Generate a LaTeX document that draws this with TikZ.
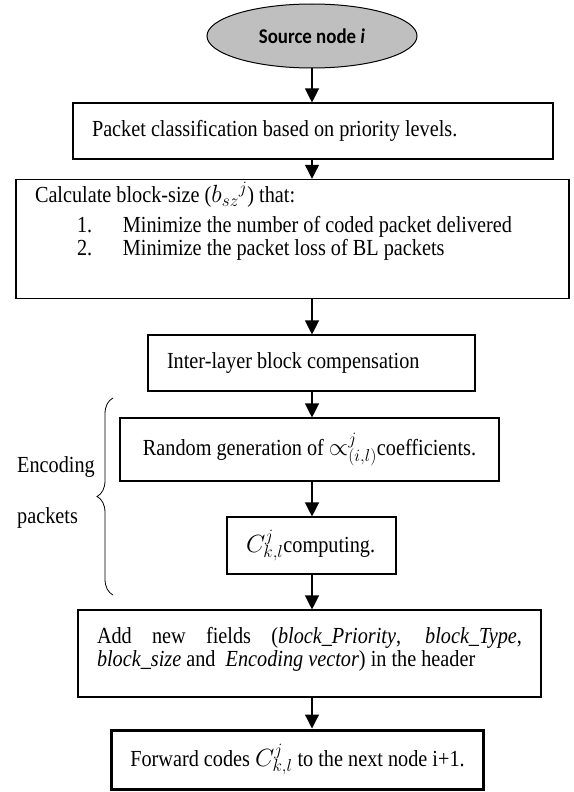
\documentclass[tikz,border=0pt]{standalone}
\usepackage{fontspec}
\setmainfont{Liberation Serif}[FakeStretch=0.88]
\newfontfamily\carlito{Carlito}[FakeStretch=0.9]
\usetikzlibrary{arrows.meta,shapes.geometric,decorations.pathreplacing}

\tikzset{
  stage/.style={draw, line width=1.1pt, inner xsep=19pt, inner ysep=3pt, align=flush left, font=\fontsize{23}{23}\selectfont},
  flow/.style={line width=1.2pt, -{Triangle[width=14pt,length=14pt]}},
  sidelabel/.style={anchor=base west, inner sep=0pt, font=\fontsize{23}{23}\selectfont},
}

\begin{document}
\begin{tikzpicture}[x=1pt, y=-1pt]
  \useasboundingbox (0,0) rectangle (573,792);

  % Start node
  \node[ellipse, draw, fill=black!25, line width=1pt, minimum width=210pt, minimum height=64pt,
        font=\carlito\bfseries\fontsize{21}{22}\selectfont] (src) at (312,36) {Source node \textit{i}};

  % Steps
  \node[stage, text width=442pt, minimum height=56pt] (cls) at (313,131)
    {Packet classification based on priority levels.};
  \node[stage, text width=515pt, minimum height=114pt] (bsz) at (292.5,239)
    {Calculate block-size (\(b_{sz}{}^{j}\)) that:\\[7pt]
     \hspace*{42pt}\makebox[46pt][l]{1.}Minimize the number of coded packet delivered\\
     \hspace*{42pt}\makebox[46pt][l]{2.}Minimize the packet loss of BL packets\rule[-40pt]{0pt}{40pt}};
  \node[stage, text width=289pt, minimum height=56pt] (ilc) at (311.5,363)
    {Inter-layer block compensation};
  \node[stage, align=center, minimum width=379pt, minimum height=63pt] (rnd) at (309.5,449.5)
    {Random generation of \(\propto^{j}_{(i,l)}\)coefficients.};
  \node[stage, text width=131pt, minimum height=57pt] (cmp) at (311.5,545.5)
    {\(C^{j}_{k,l}\)computing.};
  \node[stage, align=justify, text width=425pt, minimum height=87pt] (hdr) at (309.5,653.5)
    {Add new fields (\textit{block\_Priority}, \textit{block\_Type},\linebreak
     \textit{block\_size} and~~\textit{Encoding vector}) in the header\rule[-14pt]{0pt}{14pt}};
  \node[stage, line width=3pt, align=center, minimum width=365pt, minimum height=59pt] (fwd) at (297.5,759.5)
    {Forward codes \(C^{j}_{k,l}\) to the next node i+1.};

  % Arrows
  \draw[flow] (src.south) -- (cls.north -| src.south);
  \draw[flow] (cls.south -| src.south) -- (bsz.north -| src.south);
  \draw[flow] (bsz.south -| src.south) -- (ilc.north -| src.south);
  \draw[flow] (ilc.south -| src.south) -- (rnd.north -| src.south);
  \draw[flow] (rnd.south -| src.south) -- (cmp.north -| src.south);
  \draw[flow] (cmp.south -| src.south) -- (hdr.north -| src.south);
  \draw[flow] (hdr.south -| src.south) -- (fwd.north -| src.south);

  % Encoding brace
  \coordinate (encbot) at (113,595);
  \coordinate (enctop) at (113,398);
  \draw[decorate, decoration={brace, amplitude=16pt}, line width=0.8pt] (encbot) -- (enctop);
  \node[sidelabel] (encA) at (17,472) {Encoding};
  \node[sidelabel] (encB) at (17,523) {packets};
\end{tikzpicture}
\end{document}
